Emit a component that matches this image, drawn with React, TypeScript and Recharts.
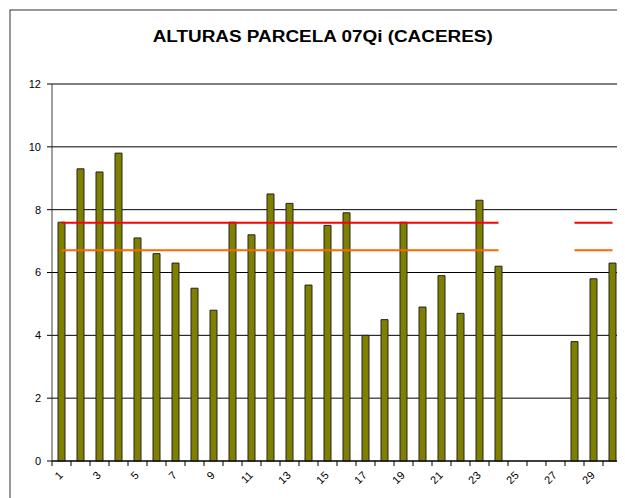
import React from 'react';
import { ComposedChart, Bar, Line, XAxis, YAxis, CartesianGrid, Customized } from 'recharts';

const categories = ['1','2','3','4','5','6','7','8','9','10','11','12','13','14','15','16','17','18','19','20','21','22','23','24','25','26','27','28','29','30'];
const alturas = [7.6, 9.3, 9.2, 9.8, 7.1, 6.6, 6.3, 5.5, 4.8, 7.6, 7.2, 8.5, 8.2, 5.6, 7.5, 7.9, 4.0, 4.5, 7.6, 4.9, 5.9, 4.7, 8.3, 6.2, null, null, null, 3.8, 5.8, 6.3];
const lineaRoja = [7.58, 7.58, 7.58, 7.58, 7.58, 7.58, 7.58, 7.58, 7.58, 7.58, 7.58, 7.58, 7.58, 7.58, 7.58, 7.58, 7.58, 7.58, 7.58, 7.58, 7.58, 7.58, 7.58, 7.58, null, null, null, 7.58, 7.58, 7.58];
const lineaNaranja = [6.71, 6.71, 6.71, 6.71, 6.71, 6.71, 6.71, 6.71, 6.71, 6.71, 6.71, 6.71, 6.71, 6.71, 6.71, 6.71, 6.71, 6.71, 6.71, 6.71, 6.71, 6.71, 6.71, 6.71, null, null, null, 6.71, 6.71, 6.71];
const yTicks = [0, 2, 4, 6, 8, 10, 12];
const title = 'ALTURAS PARCELA 07Qi (CACERES)';

const data = categories.map((c, i) => ({
  cat: c,
  altura: alturas[i],
  roja: lineaRoja[i],
  naranja: lineaNaranja[i],
}));

const HALF_BAND = 9.5;

const XTick = (props: any) => {
  const { x, y, payload, index } = props;
  const showLabel = index % 2 === 0;
  const isLast = index === categories.length - 1;
  const tx = x + 2;
  const ty = y + 15;
  return (
    <g>
      <line x1={x - HALF_BAND} x2={x - HALF_BAND} y1={y} y2={y + 5} stroke="#000" strokeWidth={1} />
      {isLast && <line x1={x + HALF_BAND} x2={x + HALF_BAND} y1={y} y2={y + 5} stroke="#000" strokeWidth={1} />}
      {showLabel && (
        <text
          x={tx}
          y={ty}
          transform={`rotate(-45 ${tx} ${ty})`}
          textAnchor="end"
          fontSize={11}
          fontFamily="Liberation Sans, Arial, sans-serif"
          fill="#000"
        >
          {payload.value}
        </text>
      )}
    </g>
  );
};

const Decor = () => (
  <g>
    <rect x={2} y={2} width={700} height={600} fill="none" stroke="#333" strokeWidth={1} />
    <text
      x={144.7}
      y={34.3}
      textLength={340}
      lengthAdjust="spacingAndGlyphs"
      fontSize={16}
      fontWeight="bold"
      fontFamily="Liberation Sans, Arial, sans-serif"
      fill="#000"
    >
      {title}
    </text>
  </g>
);

export default function App() {
  return (
    <div style={{ width: 617, height: 490, overflow: 'hidden', background: '#fff' }}>
      <ComposedChart
        width={617}
        height={490}
        data={data}
        margin={{ top: 76, right: 3, bottom: 0, left: 0 }}
        style={{ fontFamily: 'Liberation Sans, Arial, sans-serif' }}
      >
        <Customized component={Decor} />
        <CartesianGrid vertical={false} stroke="#000" strokeWidth={1} />
        <XAxis
          dataKey="cat"
          interval={0}
          height={37}
          tickSize={0}
          tickMargin={0}
          tickLine={false}
          axisLine={{ stroke: '#000' }}
          tick={<XTick />}
        />
        <XAxis xAxisId="top" dataKey="cat" orientation="top" height={0} tick={false} tickLine={false} axisLine={{ stroke: '#808080' }} />
        <YAxis
          domain={[0, 12]}
          ticks={yTicks}
          width={44}
          tickSize={5}
          tickMargin={6}
          interval={0}
          axisLine={{ stroke: '#404040' }}
          tickLine={{ stroke: '#000' }}
          tick={{ fontSize: 11, fill: '#000', fontFamily: 'Liberation Sans, Arial, sans-serif' }}
        />
        <YAxis yAxisId="right" orientation="right" width={0} domain={[0, 12]} tick={false} tickLine={false} axisLine={{ stroke: '#808080' }} />
        <Bar dataKey="altura" fill="#808000" stroke="#222" strokeWidth={1} barSize={7} isAnimationActive={false} />
        <Line dataKey="roja" stroke="#FF0000" strokeWidth={2} dot={false} activeDot={false} connectNulls={false} isAnimationActive={false} />
        <Line dataKey="naranja" stroke="#FF6600" strokeWidth={2} dot={false} activeDot={false} connectNulls={false} isAnimationActive={false} />
      </ComposedChart>
    </div>
  );
}
